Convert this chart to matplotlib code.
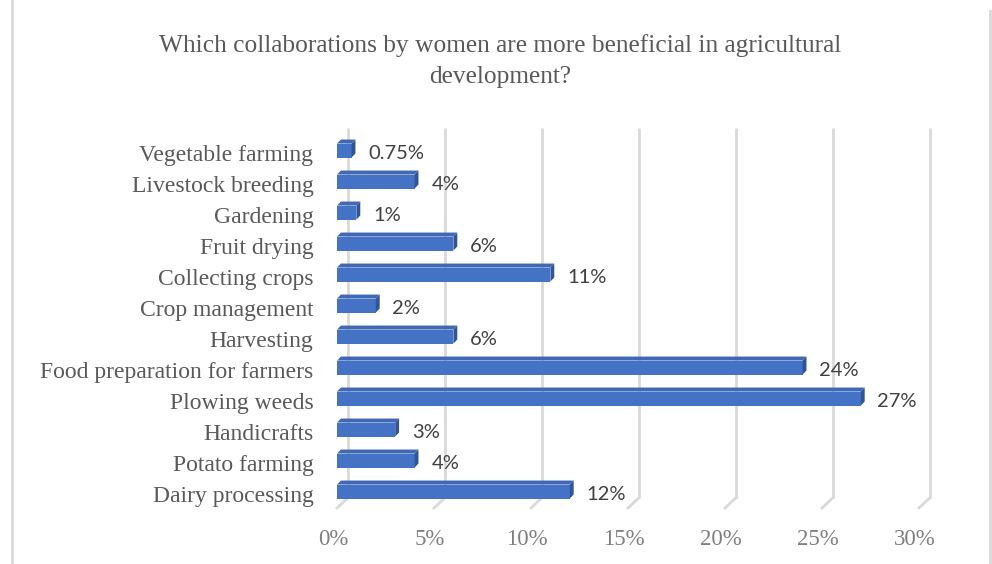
import matplotlib.pyplot as plt
from matplotlib.patches import Polygon
from matplotlib.lines import Line2D
import matplotlib.transforms as mtransforms

categories = ['Vegetable farming', 'Livestock breeding', 'Gardening', 'Fruit drying',
              'Collecting crops', 'Crop management', 'Harvesting',
              'Food preparation for farmers', 'Plowing weeds', 'Handicrafts',
              'Potato farming', 'Dairy processing']
values = [0.75, 4, 1, 6, 11, 2, 6, 24, 27, 3, 4, 12]
value_labels = ['0.75%', '4%', '1%', '6%', '11%', '2%', '6%', '24%', '27%', '3%', '4%', '12%']
xticks = [0, 5, 10, 15, 20, 25, 30]
xtick_labels = ['0%', '5%', '10%', '15%', '20%', '25%', '30%']

title = 'Which collaborations by women are more beneficial in agricultural\ndevelopment?'

W, H = 992, 564
fig = plt.figure(figsize=(W / 100, H / 100), dpi=100)

# plot area in pixels
left, right, top, bottom = 337, 919, 128, 508
ax = fig.add_axes([left / W, 1 - bottom / H, (right - left) / W, (bottom - top) / H])

pos = list(range(len(categories)))
ax.set_xlim(0, 30)
ylo = (bottom - 149) / 31
yhi = (top - 149) / 31
ax.set_ylim(ylo, yhi)

serif = 'Liberation Serif'
grey = '#595959'

# 3D-ish gridlines: back wall vertical line then floor slant to the front
dx_back = 0.55
y_back_bottom = (498 - 149) / 31
for t in xticks:
    ax.plot([t + dx_back, t + dx_back], [yhi, y_back_bottom], color='#d9d9d9', lw=2, zorder=0,
            solid_capstyle='butt', clip_on=False)
    ax.plot([t + dx_back, t], [y_back_bottom, ylo], color='#d9d9d9', lw=2, zorder=0,
            clip_on=False)

# bars with a top and side face for depth
bh = 0.45
ddx = 0.2
ddy = -0.13
for p, v in zip(pos, values):
    y0 = p - bh / 2 + 0.05
    y1 = p + bh / 2 + 0.05
    ax.barh(p + 0.05, v, height=bh, color='#4472C4', zorder=3)
    top_face = Polygon([(0, y0), (v, y0), (v + ddx, y0 + ddy), (ddx, y0 + ddy)],
                       closed=True, facecolor='#3F68B5', edgecolor='none', zorder=3)
    side_face = Polygon([(v, y0), (v + ddx, y0 + ddy), (v + ddx, y1 + ddy), (v, y1)],
                        closed=True, facecolor='#2F5597', edgecolor='none', zorder=3)
    ax.add_patch(top_face)
    ax.add_patch(side_face)

# value labels
for p, v, lab in zip(pos, values, value_labels):
    ax.annotate(lab, xy=(v, p), xytext=(12, -3), textcoords='offset points',
                ha='left', va='center', fontsize=14.5, color='#404040', family='Lato')

ax.set_yticks(pos)
ax.set_yticklabels(categories, fontsize=17, color=grey, family=serif)
ax.set_xticks(xticks)
ax.set_xticklabels(xtick_labels, fontsize=16.5, color='#7f7f7f', family=serif)
ax.tick_params(axis='y', length=0, pad=17)
ax.tick_params(axis='x', length=0, pad=15)
xshift = mtransforms.ScaledTranslation(-4 / 100, 0, fig.dpi_scale_trans)
for lbl in ax.get_xticklabels():
    lbl.set_transform(lbl.get_transform() + xshift)
yshift = mtransforms.ScaledTranslation(0, -4 / 100, fig.dpi_scale_trans)
for lbl in ax.get_yticklabels():
    lbl.set_transform(lbl.get_transform() + yshift)
for s in ax.spines.values():
    s.set_visible(False)
ax.set_facecolor('none')

fig.text(500 / W, 1 - 61 / H, title, ha='center', va='center', fontsize=18.3,
         color=grey, family=serif, linespacing=1.55)

# chart frame edges
fig.add_artist(Line2D([12 / W, 12 / W], [0, 1], color='#d9d9d9', lw=2))
fig.add_artist(Line2D([990 / W, 990 / W], [0, 1 - 11 / H], color='#d9d9d9', lw=2))

fig.savefig('out.png', dpi=100)
